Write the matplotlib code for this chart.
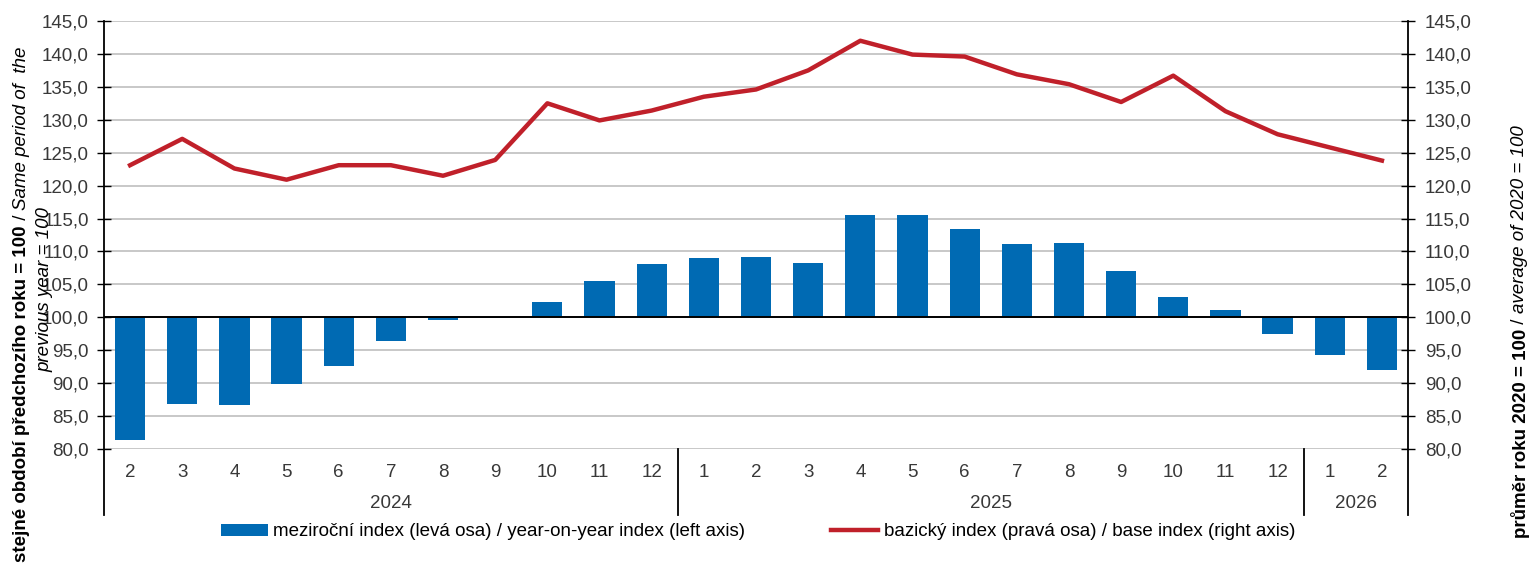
import matplotlib
matplotlib.use("Agg")
import matplotlib.pyplot as plt
from matplotlib.lines import Line2D
import numpy as np

plt.rcParams['font.family'] = ['Liberation Sans', 'DejaVu Sans']

# months 2024-02 .. 2026-02
months = ["2", "3", "4", "5", "6", "7", "8", "9", "10", "11", "12",
          "1", "2", "3", "4", "5", "6", "7", "8", "9", "10", "11", "12",
          "1", "2"]
years = ["2024", "2025", "2026"]
year_counts = [11, 12, 2]

yoy_index = [81.4, 86.9, 86.7, 89.9, 92.6, 96.4, 99.6, 99.9, 102.4, 105.5, 108.1,
             109.0, 109.2, 108.2, 115.6, 115.6, 113.4, 111.2, 111.3, 107.0, 103.1, 101.1, 97.4,
             94.2, 92.0]
base_index = [123.1, 127.1, 122.6, 120.9, 123.1, 123.1, 121.5, 123.9, 132.5, 129.9, 131.4,
              133.5, 134.6, 137.5, 142.0, 139.9, 139.6, 136.9, 135.4, 132.7, 136.7, 131.3, 127.8,
              125.8, 123.8]

label_yoy = "meziroční index (levá osa) / year-on-year index (left axis)"
label_base = "bazický index (pravá osa) / base index (right axis)"

BLUE = "#006ab3"
RED = "#c0202a"
GRID = "#c8c8c8"
TXT = "#383838"
FS = 13.5

W, H = 1531, 563
fig = plt.figure(figsize=(W / 100, H / 100), dpi=100)
ax = fig.add_axes([104 / W, 1 - 449 / H, (1408 - 104) / W, (449 - 21) / H])
ax2 = ax.twinx()

x = np.arange(len(months))
base = 100.0
ax.bar(x, np.array(yoy_index) - base, bottom=base, width=0.58, color=BLUE,
       label=label_yoy, zorder=3)
ax.axhline(100, color="black", lw=1.4, zorder=4)
ax2.plot(x, base_index, color=RED, lw=3.2, label=label_base, solid_joinstyle="round")

ticks = np.arange(80, 146, 5)
for a in (ax, ax2):
    a.set_ylim(80, 145)
    a.set_yticks(ticks)
    a.set_yticklabels([f"{t:.1f}".replace(".", ",") for t in ticks])
    a.set_xlim(-0.5, len(months) - 0.5)
    for s in a.spines.values():
        s.set_visible(False)
ax.set_axisbelow(True)
ax.yaxis.grid(True, color=GRID, lw=1.4)
ax.tick_params(axis="y", direction="inout", length=10, width=1, labelsize=FS,
               labelcolor=TXT, pad=6)
ax2.tick_params(axis="y", direction="inout", length=10, width=1, labelsize=FS,
                labelcolor=TXT, pad=7)
ax.set_xticks(x)
ax.set_xticklabels(months)
ax.tick_params(axis="x", length=0, labelsize=FS, labelcolor=TXT, pad=11)

# axis lines extended below into the category area
low = -0.155
sep = [-0.5]
acc = -0.5
for c in year_counts:
    acc += c
    sep.append(acc)
for i, xs in enumerate(sep):
    top = 1.0 if i in (0, len(sep) - 1) else 0.0
    ax.add_line(Line2D([xs, xs], [low, top], transform=ax.get_xaxis_transform(),
                       color="black", lw=1.3, clip_on=False))

start = 0
for yr, c in zip(years, year_counts):
    ax.text(start + (c - 1) / 2, -0.128, yr, transform=ax.get_xaxis_transform(),
            ha="center", va="center", fontsize=FS, color=TXT)
    start += c

h1, l1 = ax.get_legend_handles_labels()
h2, l2 = ax2.get_legend_handles_labels()
fig.legend(h1 + h2, l1 + l2, loc="center", bbox_to_anchor=(758 / W, 1 - 532 / H),
           ncol=2, frameon=False, fontsize=FS, handlelength=2.5, handleheight=0.6,
           handletextpad=0.3, columnspacing=4.6)

# rotated axis titles with bold and italic parts
renderer = fig.canvas.get_renderer()


def vtext(xp, ycp, parts):
    objs = []
    for s, w, st in parts:
        t = fig.text(0, 0, s, rotation=90, fontsize=FS, fontweight=w, fontstyle=st,
                     ha="center", va="bottom", rotation_mode="anchor", color="black")
        objs.append(t)
    hs = [t.get_window_extent(renderer).height for t in objs]
    y = ycp - sum(hs) / 2
    for t, hh in zip(objs, hs):
        t.set_position((xp / W, y / H))
        t.set_va("center")
        t.set_ha("left")
        y += hh


vtext(22, H - 304, [("stejné období předchozího roku = 100", "bold", "normal"),
                    (" / ", "normal", "normal"),
                    ("Same period of  the", "normal", "italic")])
vtext(45, H - 290, [("previous year = 100", "normal", "italic")])
vtext(1520, H - 332, [("průměr roku 2020 = 100", "bold", "normal"),
                      (" / ", "normal", "normal"),
                      ("average of 2020 = 100", "normal", "italic")])

fig.savefig("out.png", dpi=100)
